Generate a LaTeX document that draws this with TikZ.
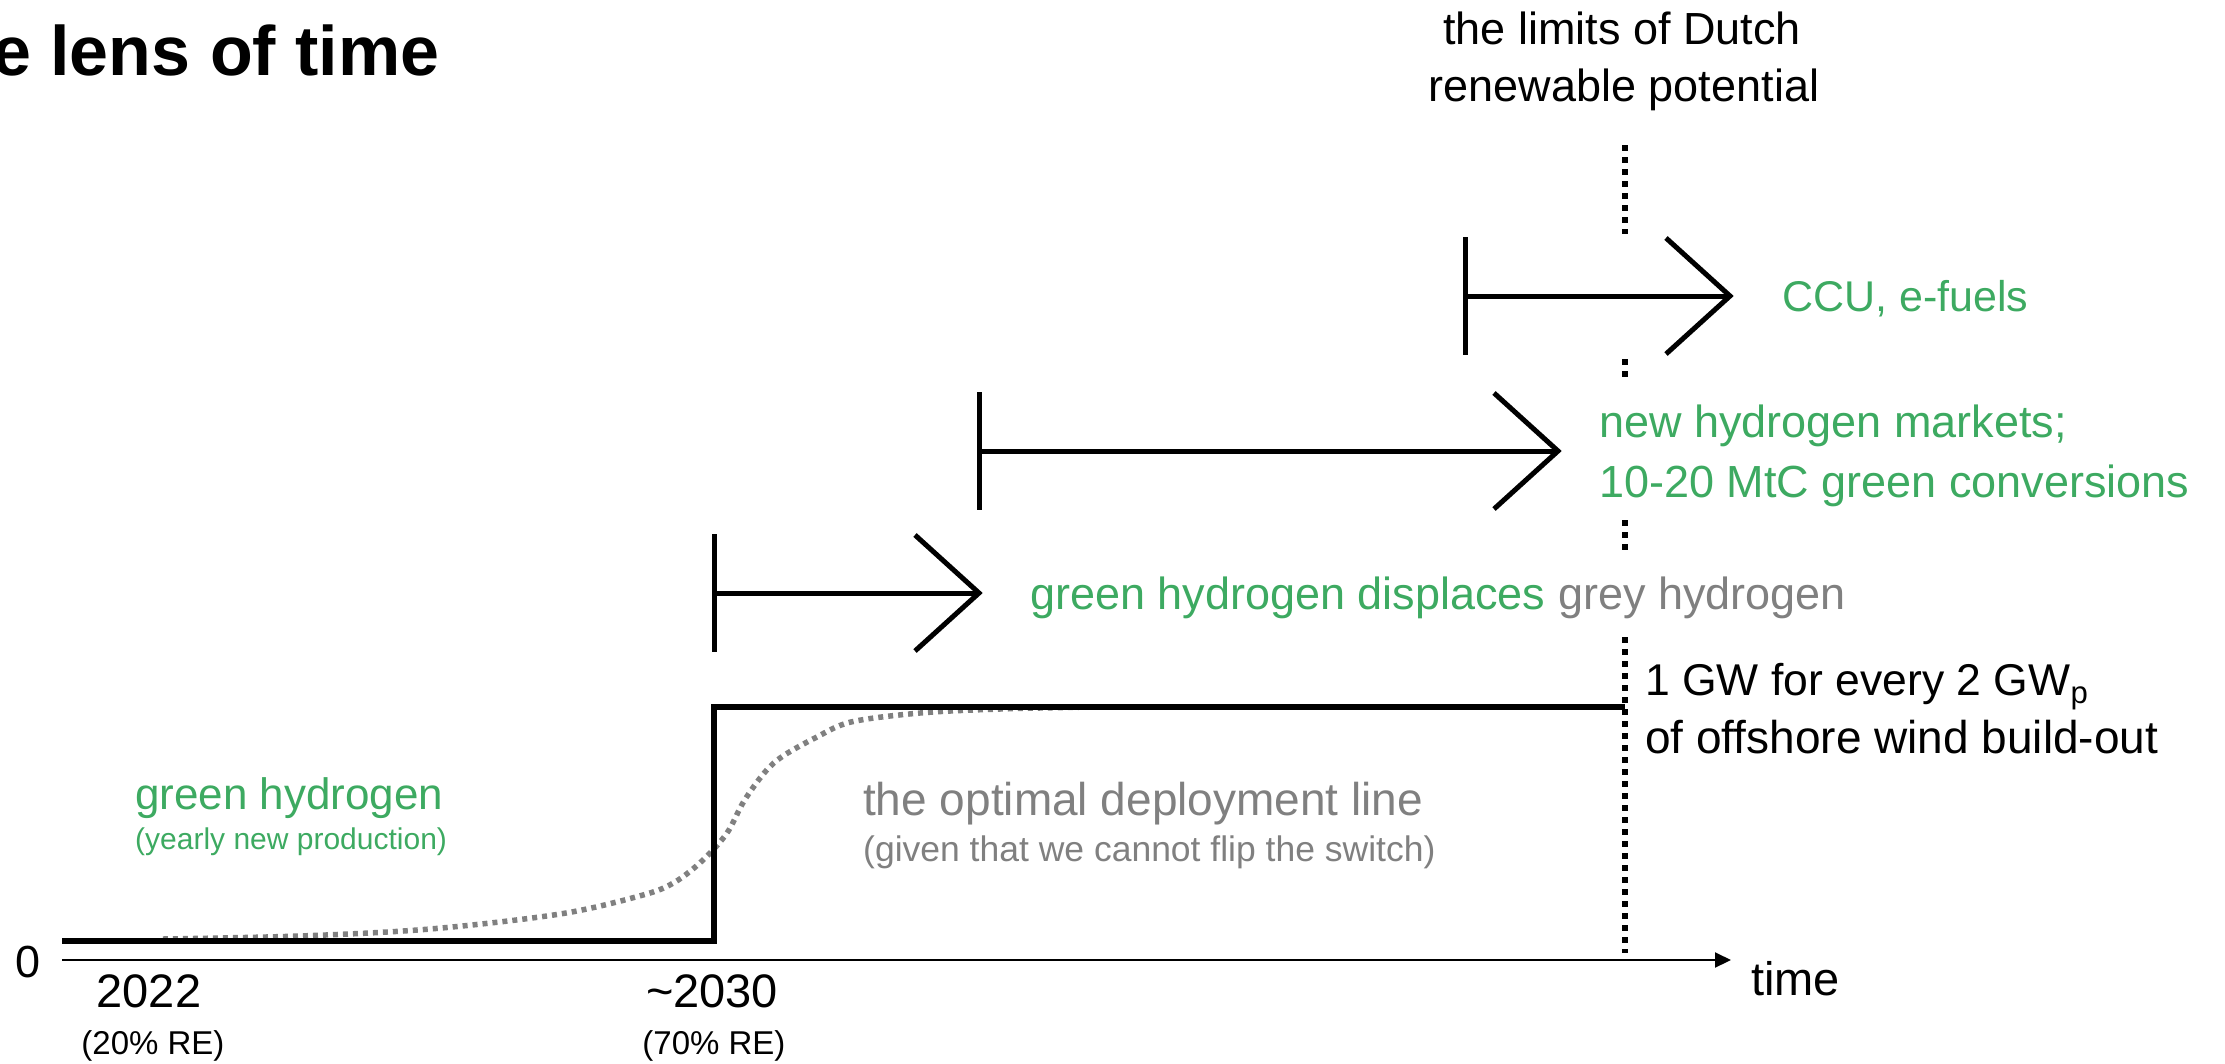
\documentclass[tikz,border=0pt]{standalone}
\usepackage{fontspec}
\setmainfont{Liberation Sans}
\usetikzlibrary{arrows.meta}
\definecolor{hgreen}{RGB}{61,170,97}
\definecolor{hgray}{RGB}{128,128,128}
\begin{document}
\begin{tikzpicture}[x=1pt,y=-1pt,
  lbl/.style={inner sep=0pt, anchor=base west, font=\fontsize{45}{54}\selectfont},
  lblc/.style={inner sep=0pt, anchor=base, font=\fontsize{45}{54}\selectfont},
  small/.style={font=\fontsize{33}{40}\selectfont},
  titlefont/.style={inner sep=0pt, anchor=base west, font=\fontsize{70}{80}\selectfont\bfseries},
  span/.style={line width=5pt, line cap=butt},
  headline/.style={line width=5pt, line join=miter},
  limitline/.style={line width=6pt, dash pattern=on 6pt off 6pt},
  stepline/.style={line width=5.5pt, line join=miter},
  optline/.style={hgray, line width=5.5pt, dash pattern=on 5pt off 5pt},
  axisline/.style={line width=2pt, -{Triangle[length=16pt,width=15pt]}}
]
\useasboundingbox (0,0) rectangle (2225,1063);

% title
\node[titlefont] (title) at (-8,75) {e lens of time};

% limits of renewable potential
\node[lblc] (lim1) at (1622,44) {the limits of Dutch};
\node[lblc] (lim2) at (1624,101) {renewable potential};
\coordinate (d1a) at (1625,145); \coordinate (d1b) at (1625,234);
\coordinate (d2a) at (1625,359); \coordinate (d2b) at (1625,377);
\coordinate (d3a) at (1625,520); \coordinate (d3b) at (1625,553);
\coordinate (d4a) at (1625,637); \coordinate (d4b) at (1625,953);
\draw[limitline] (d1a) -- (d1b);
\draw[limitline] (d2a) -- (d2b);
\draw[limitline] (d3a) -- (d3b);
\draw[limitline] (d4a) -- (d4b);

% optimal deployment curve
\draw[optline] plot[smooth, tension=0.55] coordinates {
  (163,939) (300,936) (430,929) (560,914) (643,895) (675,882) (703,860)
  (727,833) (744,801) (765,772) (783,756) (815,738) (851,722) (920,713)
  (1000,709) (1093,707)};

% step line
\coordinate (s0) at (62,941);
\coordinate (s1) at (714,941);
\coordinate (s2) at (714,707);
\coordinate (s3) at (1625,707);
\draw[stepline] (s0) -- (s1) -- (s2) -- (s3);

% axis
\coordinate (ax0) at (62,960);
\coordinate (ax1) at (1731,960);
\draw[axisline] (ax0) -- (ax1);

% span arrows
\coordinate (a1s) at (1465,296); \coordinate (a1e) at (1730,296);
\coordinate (a2s) at (979,451);  \coordinate (a2e) at (1558,451);
\coordinate (a3s) at (714,593);  \coordinate (a3e) at (979,593);
\foreach \s/\e in {a1s/a1e, a2s/a2e, a3s/a3e}{
  \draw[span] (\s) ++(0,-59) -- ++(0,118);
  \draw[span] (\s) -- (\e);
  \draw[headline] (\e) ++(-64,-58) -- (\e) -- ++(-64,58);
}

% labels
\node[lbl, text=hgreen, font=\fontsize{43}{54}\selectfont] (ccu) at (1782,311) {CCU, e-fuels};
\node[lbl, text=hgreen] (nhm1) at (1599,437) {new hydrogen markets;};
\node[lbl, text=hgreen] (nhm2) at (1599,497) {10-20 MtC green conversions};
\node[lbl] (disp) at (1030,609) {\textcolor{hgreen}{green hydrogen displaces} \textcolor{hgray}{grey hydrogen}};
\node[lbl, font=\fontsize{44.5}{54}\selectfont] (gw1) at (1645,695) {1 GW for every 2 GW\textsubscript{p}};
\node[lbl, font=\fontsize{46}{54}\selectfont] (gw2) at (1645,753) {of offshore wind build-out};
\node[lbl, text=hgreen, font=\fontsize{44}{54}\selectfont] (gh1) at (135,809) {green hydrogen};
\node[lbl, text=hgreen, font=\fontsize{30}{36}\selectfont] (gh2) at (135,849) {(yearly new production)};
\node[lbl, text=hgray, font=\fontsize{46}{54}\selectfont] (opt1) at (863,815) {the optimal deployment line};
\node[lbl, text=hgray, font=\fontsize{35.5}{42}\selectfont] (opt2) at (863,861) {(given that we cannot flip the switch)};
\node[lbl] (zero) at (15,977) {0};
\node[lbl, font=\fontsize{47}{54}\selectfont] (time) at (1751,995) {time};
\node[lblc, font=\fontsize{47}{54}\selectfont] (y1) at (149,1007) {2022};
\node[lblc, small] (re1) at (153,1054) {(20\% RE)};
\node[lblc, font=\fontsize{47}{54}\selectfont] (y2) at (712,1007) {\textasciitilde2030};
\node[lblc, small] (re2) at (714,1054) {(70\% RE)};
\end{tikzpicture}
\end{document}
